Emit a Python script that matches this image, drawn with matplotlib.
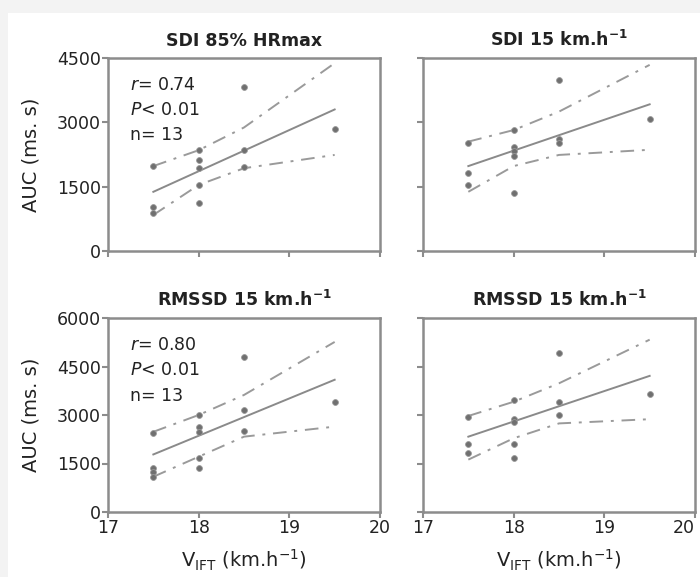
import matplotlib.pyplot as plt
from matplotlib.patches import Rectangle

# x positions (km/h) shared by all panels
xs_sdi85 = [17.5, 17.5, 17.5, 18, 18, 18, 18, 18, 18.5, 18.5, 18.5, 19.5]
ys_sdi85 = [890, 1030, 1980, 2350, 2120, 1930, 1540, 1110, 3830, 2350, 1970, 2840]

xs_sdi15 = [17.5, 17.5, 17.5, 18, 18, 18, 18, 18, 18.5, 18.5, 18.5, 19.5]
ys_sdi15 = [2520, 1830, 1550, 2820, 2420, 2320, 2220, 1360, 3990, 2600, 2510, 3070]

xs_rm1 = [17.5, 17.5, 17.5, 17.5, 18, 18, 18, 18, 18, 18.5, 18.5, 18.5, 19.5]
ys_rm1 = [2430, 1350, 1240, 1090, 3000, 2640, 2480, 1660, 1370, 4780, 3160, 2500, 3390]

xs_rm2 = [17.5, 17.5, 17.5, 18, 18, 18, 18, 18, 18.5, 18.5, 18.5, 19.5]
ys_rm2 = [2950, 2100, 1840, 3470, 2870, 2790, 2100, 1660, 4910, 3410, 3000, 3650]

# regression line ends and confidence band values at the band x positions
fit_x = [17.5, 19.5]
band_x = [17.5, 18, 18.5, 19.5]
fit_sdi85 = [1380, 3300]
up_sdi85 = [1980, 2350, 2880, 4380]
lo_sdi85 = [840, 1540, 1930, 2240]
fit_sdi15 = [1980, 3420]
up_sdi15 = [2550, 2820, 3250, 4340]
lo_sdi15 = [1380, 1980, 2240, 2360]
fit_rm1 = [1780, 4090]
up_rm1 = [2480, 3000, 3620, 5260]
lo_rm1 = [1090, 1710, 2330, 2640]
fit_rm2 = [2330, 4210]
up_rm2 = [2970, 3410, 3980, 5330]
lo_rm2 = [1620, 2280, 2740, 2870]

titles = ['SDI 85% HRmax', r'SDI 15 km.h$^{\mathbf{-1}}$',
          r'RMSSD 15 km.h$^{\mathbf{-1}}$', r'RMSSD 15 km.h$^{\mathbf{-1}}$']
stats_top = ['r', '0.74', '13']
stats_bot = ['r', '0.80', '13']

W, H = 700, 577
fig = plt.figure(figsize=(7.0, 5.77), dpi=100, facecolor='#f3f3f3')
fig.patches.append(Rectangle((8 / W, 0), 1, 1 - 13 / H, transform=fig.transFigure,
                             facecolor='white', edgecolor='none', zorder=-10))

def make_ax(l, t, r, b):
    return fig.add_axes([l / W, 1 - b / H, (r - l) / W, (b - t) / H])

panels = [
    (make_ax(108, 58, 380, 251), xs_sdi85, ys_sdi85, fit_sdi85, up_sdi85, lo_sdi85, 4500),
    (make_ax(423, 58, 695, 251), xs_sdi15, ys_sdi15, fit_sdi15, up_sdi15, lo_sdi15, 4500),
    (make_ax(108, 318, 380, 512), xs_rm1, ys_rm1, fit_rm1, up_rm1, lo_rm1, 6000),
    (make_ax(423, 318, 695, 512), xs_rm2, ys_rm2, fit_rm2, up_rm2, lo_rm2, 6000),
]

grey = '#8a8a8a'
for i, (ax, xs, ys, fit, up, lo, ymax) in enumerate(panels):
    ax.plot(xs, ys, 'o', color='#707070', ms=4.2, mec='#999999', mew=0.6, zorder=3)
    ax.plot(fit_x, fit, '-', color=grey, lw=1.4)
    ax.plot(band_x, up, color='#9a9a9a', lw=1.4, dashes=(7, 4, 1.5, 4))
    ax.plot(band_x, lo, color='#9a9a9a', lw=1.4, dashes=(7, 4, 1.5, 4))
    ax.set_xlim(17, 20)
    ax.set_ylim(0, ymax)
    ax.set_xticks([17, 18, 19, 20])
    ax.set_yticks(range(0, ymax + 1, 1500))
    for s in ax.spines.values():
        s.set_color('#8c8c8c')
        s.set_linewidth(1.8)
    ax.tick_params(direction='out', length=4, width=1.5, color='#8c8c8c',
                   labelsize=12.5, labelcolor='#222222', pad=1)
    if i % 2 == 1:
        ax.set_yticklabels([])
    else:
        ax.set_ylabel('AUC (ms. s)', fontsize=14, color='#222222', labelpad=12)
    if i < 2:
        ax.set_xticklabels([])
    else:
        ax.set_xlabel(r'V$_{\rm IFT}$ (km.h$^{-1}$)', fontsize=14, color='#222222', labelpad=8)
    ax.set_title(titles[i], fontsize=12.5, fontweight='bold', color='#222222', pad=9)

# keep the last "20" inside the picture
panels[3][0].get_xticklabels()[-1].set_horizontalalignment('right')

for ax, st in [(panels[0][0], stats_top), (panels[2][0], stats_bot)]:
    ax.text(0.08, 0.86, r'$\it{' + st[0] + '}$= ' + st[1], transform=ax.transAxes,
            fontsize=12.5, va='center', color='#222222')
    ax.text(0.08, 0.73, r'$\it{P}$< 0.01', transform=ax.transAxes,
            fontsize=12.5, va='center', color='#222222')
    ax.text(0.08, 0.60, 'n= ' + st[2], transform=ax.transAxes,
            fontsize=12.5, va='center', color='#222222')

fig.savefig('out.png', dpi=100, facecolor=fig.get_facecolor())
